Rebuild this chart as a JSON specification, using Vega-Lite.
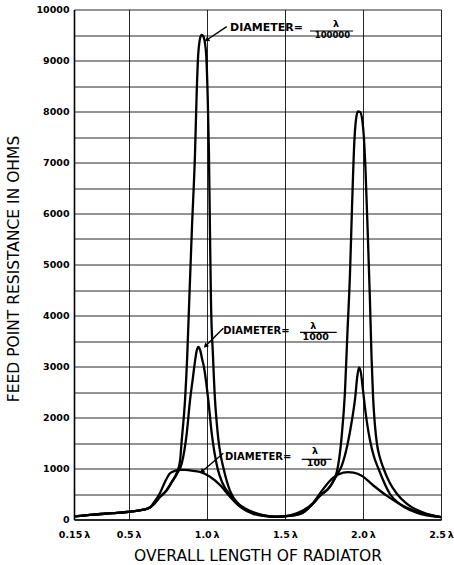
{
  "$schema": "https://vega.github.io/schema/vega-lite/v6.json",
  "width": 367,
  "height": 510,
  "autosize": "none",
  "padding": {"left": 74, "top": 9.5, "right": 13, "bottom": 45.5},
  "background": "white",
  "config": {
    "view": {"stroke": null},
    "font": "DejaVu Sans",
    "axis": {
      "gridColor": "#000",
      "gridOpacity": 0.85,
      "gridWidth": 1,
      "domainColor": "#000",
      "domainWidth": 1.6,
      "ticks": false,
      "labelColor": "#000",
      "labelFont": "DejaVu Sans",
      "labelFontWeight": "bold",
      "labelFontSize": 9.5,
      "titleColor": "#000",
      "titleFont": "DejaVu Sans",
      "titleFontWeight": "normal",
      "labelOverlap": false,
      "labelFlush": false,
      "labelBound": false
    }
  },
  "datasets": {
    "curves": [
      {"d": "λ/100000", "x": 0.15, "y": 60}, {"d": "λ/100000", "x": 0.274, "y": 96}, {"d": "λ/100000", "x": 0.4, "y": 125}, {"d": "λ/100000", "x": 0.487, "y": 147}, {"d": "λ/100000", "x": 0.594, "y": 192}, {"d": "λ/100000", "x": 0.637, "y": 235}, {"d": "λ/100000", "x": 0.658, "y": 290},
      {"d": "λ/100000", "x": 0.7, "y": 440}, {"d": "λ/100000", "x": 0.744, "y": 580}, {"d": "λ/100000", "x": 0.78, "y": 760}, {"d": "λ/100000", "x": 0.81, "y": 930}, {"d": "λ/100000", "x": 0.829, "y": 1150}, {"d": "λ/100000", "x": 0.84, "y": 1560}, {"d": "λ/100000", "x": 0.861, "y": 2340}, {"d": "λ/100000", "x": 0.875, "y": 3200}, {"d": "λ/100000", "x": 0.888, "y": 4300}, {"d": "λ/100000", "x": 0.905, "y": 5700}, {"d": "λ/100000", "x": 0.925, "y": 7190}, {"d": "λ/100000", "x": 0.935, "y": 8300}, {"d": "λ/100000", "x": 0.945, "y": 9100}, {"d": "λ/100000", "x": 0.955, "y": 9400}, {"d": "λ/100000", "x": 0.966, "y": 9500}, {"d": "λ/100000", "x": 0.977, "y": 9480}, {"d": "λ/100000", "x": 0.987, "y": 9370}, {"d": "λ/100000", "x": 0.997, "y": 9080}, {"d": "λ/100000", "x": 1.006, "y": 8300}, {"d": "λ/100000", "x": 1.014, "y": 7190}, {"d": "λ/100000", "x": 1.02, "y": 5800}, {"d": "λ/100000", "x": 1.027, "y": 4300}, {"d": "λ/100000", "x": 1.04, "y": 3200}, {"d": "λ/100000", "x": 1.053, "y": 2340}, {"d": "λ/100000", "x": 1.064, "y": 1900}, {"d": "λ/100000", "x": 1.074, "y": 1580}, {"d": "λ/100000", "x": 1.088, "y": 1280}, {"d": "λ/100000", "x": 1.106, "y": 1020}, {"d": "λ/100000", "x": 1.149, "y": 560}, {"d": "λ/100000", "x": 1.213, "y": 270}, {"d": "λ/100000", "x": 1.3, "y": 130}, {"d": "λ/100000", "x": 1.36, "y": 80}, {"d": "λ/100000", "x": 1.45, "y": 55}, {"d": "λ/100000", "x": 1.53, "y": 70}, {"d": "λ/100000", "x": 1.618, "y": 140}, {"d": "λ/100000", "x": 1.661, "y": 250}, {"d": "λ/100000", "x": 1.725, "y": 470}, {"d": "λ/100000", "x": 1.789, "y": 650}, {"d": "λ/100000", "x": 1.832, "y": 920}, {"d": "λ/100000", "x": 1.864, "y": 1630}, {"d": "λ/100000", "x": 1.885, "y": 2500}, {"d": "λ/100000", "x": 1.9, "y": 3600}, {"d": "λ/100000", "x": 1.917, "y": 4800}, {"d": "λ/100000", "x": 1.93, "y": 6100}, {"d": "λ/100000", "x": 1.945, "y": 7400}, {"d": "λ/100000", "x": 1.956, "y": 7850}, {"d": "λ/100000", "x": 1.968, "y": 8000}, {"d": "λ/100000", "x": 1.982, "y": 7990}, {"d": "λ/100000", "x": 1.995, "y": 7850}, {"d": "λ/100000", "x": 2.006, "y": 7500}, {"d": "λ/100000", "x": 2.016, "y": 6900}, {"d": "λ/100000", "x": 2.031, "y": 5610}, {"d": "λ/100000", "x": 2.045, "y": 4300}, {"d": "λ/100000", "x": 2.055, "y": 3200}, {"d": "λ/100000", "x": 2.065, "y": 2400}, {"d": "λ/100000", "x": 2.077, "y": 1850}, {"d": "λ/100000", "x": 2.09, "y": 1480}, {"d": "λ/100000", "x": 2.11, "y": 1200}, {"d": "λ/100000", "x": 2.131, "y": 1010}, {"d": "λ/100000", "x": 2.17, "y": 730}, {"d": "λ/100000", "x": 2.216, "y": 510}, {"d": "λ/100000", "x": 2.28, "y": 310}, {"d": "λ/100000", "x": 2.387, "y": 135}, {"d": "λ/100000", "x": 2.5, "y": 45},

      {"d": "λ/1000", "x": 0.15, "y": 60}, {"d": "λ/1000", "x": 0.274, "y": 96}, {"d": "λ/1000", "x": 0.4, "y": 125}, {"d": "λ/1000", "x": 0.487, "y": 147}, {"d": "λ/1000", "x": 0.594, "y": 192}, {"d": "λ/1000", "x": 0.637, "y": 235}, {"d": "λ/1000", "x": 0.658, "y": 290},
      {"d": "λ/1000", "x": 0.7, "y": 440}, {"d": "λ/1000", "x": 0.744, "y": 570}, {"d": "λ/1000", "x": 0.78, "y": 750}, {"d": "λ/1000", "x": 0.81, "y": 900}, {"d": "λ/1000", "x": 0.84, "y": 1100}, {"d": "λ/1000", "x": 0.872, "y": 1690}, {"d": "λ/1000", "x": 0.893, "y": 2340}, {"d": "λ/1000", "x": 0.908, "y": 2700}, {"d": "λ/1000", "x": 0.92, "y": 2990}, {"d": "λ/1000", "x": 0.935, "y": 3300}, {"d": "λ/1000", "x": 0.946, "y": 3385}, {"d": "λ/1000", "x": 0.958, "y": 3320}, {"d": "λ/1000", "x": 0.97, "y": 3150}, {"d": "λ/1000", "x": 0.982, "y": 2990}, {"d": "λ/1000", "x": 1.01, "y": 2340}, {"d": "λ/1000", "x": 1.032, "y": 1690}, {"d": "λ/1000", "x": 1.068, "y": 1020}, {"d": "λ/1000", "x": 1.1, "y": 720}, {"d": "λ/1000", "x": 1.149, "y": 480}, {"d": "λ/1000", "x": 1.213, "y": 280}, {"d": "λ/1000", "x": 1.277, "y": 170}, {"d": "λ/1000", "x": 1.36, "y": 85}, {"d": "λ/1000", "x": 1.45, "y": 55}, {"d": "λ/1000", "x": 1.53, "y": 70}, {"d": "λ/1000", "x": 1.618, "y": 140}, {"d": "λ/1000", "x": 1.661, "y": 250}, {"d": "λ/1000", "x": 1.725, "y": 460}, {"d": "λ/1000", "x": 1.789, "y": 640}, {"d": "λ/1000", "x": 1.832, "y": 870}, {"d": "λ/1000", "x": 1.864, "y": 1050}, {"d": "λ/1000", "x": 1.9, "y": 1450}, {"d": "λ/1000", "x": 1.93, "y": 1950}, {"d": "λ/1000", "x": 1.951, "y": 2400}, {"d": "λ/1000", "x": 1.963, "y": 2780}, {"d": "λ/1000", "x": 1.975, "y": 2980}, {"d": "λ/1000", "x": 1.987, "y": 2880}, {"d": "λ/1000", "x": 2.0, "y": 2550}, {"d": "λ/1000", "x": 2.015, "y": 2150}, {"d": "λ/1000", "x": 2.03, "y": 1820}, {"d": "λ/1000", "x": 2.045, "y": 1560}, {"d": "λ/1000", "x": 2.07, "y": 1240}, {"d": "λ/1000", "x": 2.099, "y": 1000}, {"d": "λ/1000", "x": 2.173, "y": 500}, {"d": "λ/1000", "x": 2.237, "y": 300}, {"d": "λ/1000", "x": 2.344, "y": 133}, {"d": "λ/1000", "x": 2.5, "y": 45},

      {"d": "λ/100", "x": 0.15, "y": 60}, {"d": "λ/100", "x": 0.274, "y": 96}, {"d": "λ/100", "x": 0.4, "y": 125}, {"d": "λ/100", "x": 0.487, "y": 147}, {"d": "λ/100", "x": 0.594, "y": 192}, {"d": "λ/100", "x": 0.637, "y": 240}, {"d": "λ/100", "x": 0.658, "y": 318}, {"d": "λ/100", "x": 0.7, "y": 514}, {"d": "λ/100", "x": 0.733, "y": 741}, {"d": "λ/100", "x": 0.765, "y": 906}, {"d": "λ/100", "x": 0.8, "y": 960}, {"d": "λ/100", "x": 0.829, "y": 975}, {"d": "λ/100", "x": 0.86, "y": 975}, {"d": "λ/100", "x": 0.893, "y": 962}, {"d": "λ/100", "x": 0.957, "y": 935}, {"d": "λ/100", "x": 1.021, "y": 839}, {"d": "λ/100", "x": 1.085, "y": 676}, {"d": "λ/100", "x": 1.149, "y": 447}, {"d": "λ/100", "x": 1.213, "y": 251}, {"d": "λ/100", "x": 1.298, "y": 110}, {"d": "λ/100", "x": 1.384, "y": 60}, {"d": "λ/100", "x": 1.45, "y": 50}, {"d": "λ/100", "x": 1.533, "y": 80}, {"d": "λ/100", "x": 1.618, "y": 180}, {"d": "λ/100", "x": 1.682, "y": 330}, {"d": "λ/100", "x": 1.746, "y": 600}, {"d": "λ/100", "x": 1.81, "y": 820}, {"d": "λ/100", "x": 1.874, "y": 920}, {"d": "λ/100", "x": 1.905, "y": 930}, {"d": "λ/100", "x": 1.94, "y": 920}, {"d": "λ/100", "x": 1.992, "y": 860}, {"d": "λ/100", "x": 2.067, "y": 667}, {"d": "λ/100", "x": 2.152, "y": 467}, {"d": "λ/100", "x": 2.237, "y": 300}, {"d": "λ/100", "x": 2.366, "y": 133}, {"d": "λ/100", "x": 2.5, "y": 45}
    ],
    "labels": [
      {"k": "A", "x": 1.149, "y": 9631, "t": "DIAMETER="},
      {"k": "B", "x": 1.106, "y": 3700, "t": "DIAMETER="},
      {"k": "C", "x": 1.117, "y": 1216, "t": "DIAMETER="}
    ],
    "fracs": [
      {"k": "A", "x": 1.828, "y": 9716, "t": "λ"},
      {"k": "B", "x": 1.682, "y": 3794, "t": "λ"},
      {"k": "C", "x": 1.693, "y": 1347, "t": "λ"},
      {"k": "A", "x": 1.805, "y": 9494, "t": "100000"},
      {"k": "B", "x": 1.698, "y": 3584, "t": "1000"},
      {"k": "C", "x": 1.704, "y": 1102, "t": "100"}
    ],
    "bars": [
      {"k": "A", "x": 1.661, "x2": 1.937, "y": 9578},
      {"k": "B", "x": 1.597, "x2": 1.832, "y": 3671},
      {"k": "C", "x": 1.608, "x2": 1.8, "y": 1180}
    ],
    "arrows": [
      {"k": "A", "x": 1.128, "y": 9663, "x2": 0.9997, "y2": 9402},
      {"k": "B", "x": 1.106, "y": 3749, "x2": 0.992, "y2": 3402},
      {"k": "C", "x": 1.106, "y": 1298, "x2": 0.968, "y2": 937}
    ]
  },
  "encoding": {
    "x": {
      "field": "x", "type": "quantitative",
      "scale": {"domain": [0.15, 2.5], "nice": false, "zero": false},
      "axis": {
        "title": "OVERALL LENGTH OF RADIATOR",
        "values": [0.15, 0.5, 1, 1.5, 2, 2.5],
        "labelExpr": "(datum.value == 0.15 ? '0.15' : format(datum.value, '.1f')) + '\u2009λ'",
        "labelPadding": 10,
        "titleFontSize": 15.5,
        "titleBaseline": "alphabetic",
        "titleY": 41,
        "grid": true
      }
    },
    "y": {
      "field": "y", "type": "quantitative",
      "scale": {"domain": [0, 10000], "nice": false},
      "axis": {
        "title": "FEED POINT RESISTANCE IN OHMS",
        "values": [0, 500, 1000, 1500, 2000, 2500, 3000, 3500, 4000, 4500, 5000, 5500, 6000, 6500, 7000, 7500, 8000, 8500, 9000, 9500, 10000],
        "labelExpr": "datum.value % 1000 == 0 ? format(datum.value, 'd') : ''",
        "labelPadding": 5,
        "titleFontSize": 15.5,
        "titleBaseline": "alphabetic",
        "titleAngle": 270,
        "titleAlign": "center",
        "titleX": -56,
        "titleY": 259,
        "grid": true
      }
    }
  },
  "layer": [
    {
      "data": {"name": "curves"},
      "mark": {"type": "line", "color": "#000", "strokeWidth": 2.3, "interpolate": "monotone"},
      "encoding": {"detail": {"field": "d"}}
    },
    {
      "data": {"name": "bars"},
      "mark": {"type": "rule", "color": "#000", "strokeWidth": 1.2},
      "encoding": {"x2": {"field": "x2"}}
    },
    {
      "data": {"name": "arrows"},
      "mark": {"type": "rule", "color": "#000", "strokeWidth": 1.4},
      "encoding": {"x2": {"field": "x2"}, "y2": {"field": "y2"}}
    },
    {
      "data": {"name": "arrows"},
      "transform": [{"filter": "datum.k == 'A'"}],
      "mark": {"type": "point", "shape": "triangle-up", "filled": true, "color": "#000", "opacity": 1, "size": 30, "angle": 236},
      "encoding": {"x": {"field": "x2", "type": "quantitative"}, "y": {"field": "y2", "type": "quantitative"}}
    },
    {
      "data": {"name": "arrows"},
      "transform": [{"filter": "datum.k == 'B'"}],
      "mark": {"type": "point", "shape": "triangle-up", "filled": true, "color": "#000", "opacity": 1, "size": 30, "angle": 225},
      "encoding": {"x": {"field": "x2", "type": "quantitative"}, "y": {"field": "y2", "type": "quantitative"}}
    },
    {
      "data": {"name": "arrows"},
      "transform": [{"filter": "datum.k == 'C'"}],
      "mark": {"type": "point", "shape": "triangle-up", "filled": true, "color": "#000", "opacity": 1, "size": 30, "angle": 230},
      "encoding": {"x": {"field": "x2", "type": "quantitative"}, "y": {"field": "y2", "type": "quantitative"}}
    },
    {
      "data": {"name": "labels"},
      "transform": [{"filter": "datum.k == 'A'"}],
      "mark": {"type": "text", "align": "left", "baseline": "middle", "fontWeight": "bold", "fontSize": 11, "color": "#000"},
      "encoding": {"text": {"field": "t"}}
    },
    {
      "data": {"name": "labels"},
      "transform": [{"filter": "datum.k != 'A'"}],
      "mark": {"type": "text", "align": "left", "baseline": "middle", "fontWeight": "bold", "fontSize": 10, "color": "#000"},
      "encoding": {"text": {"field": "t"}}
    },
    {
      "data": {"name": "fracs"},
      "transform": [{"filter": "datum.t == '100000'"}],
      "mark": {"type": "text", "align": "center", "baseline": "middle", "fontWeight": "bold", "fontSize": 8.5, "color": "#000"},
      "encoding": {"text": {"field": "t"}}
    },
    {
      "data": {"name": "fracs"},
      "transform": [{"filter": "datum.t != '100000'"}],
      "mark": {"type": "text", "align": "center", "baseline": "middle", "fontWeight": "bold", "fontSize": 9.5, "color": "#000"},
      "encoding": {"text": {"field": "t"}}
    }
  ]
}
